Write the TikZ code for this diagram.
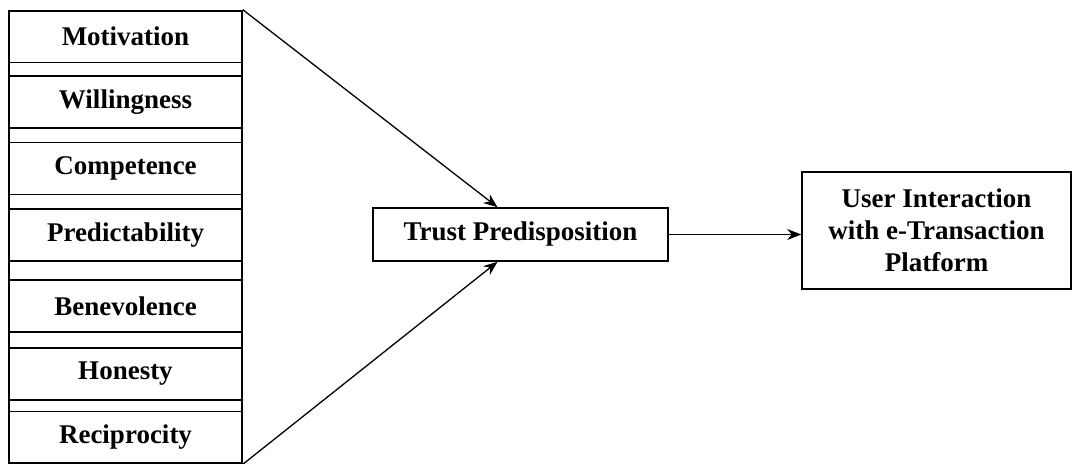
\documentclass[tikz,border=0pt]{standalone}
\usepackage{fontspec}
\setmainfont{Liberation Serif}
\usetikzlibrary{arrows.meta}

\begin{document}
\begin{tikzpicture}[x=0.5pt,y=-0.5pt]
        \tikzset{factor/.style={draw,line width=0.8pt,minimum width=116.5pt,minimum height=26pt,inner sep=0pt,
                font=\fontsize{13.5}{16}\selectfont\bfseries},
            mainbox/.style={draw,line width=0.8pt,align=center,inner sep=0pt,
                font=\fontsize{13.5}{16}\selectfont\bfseries},
            link/.style={-{Stealth[length=7pt,width=5.5pt]},line width=0.65pt}}
        \useasboundingbox (0,0) rectangle (1073,464);
        \draw[line width=0.8pt] (9,11) rectangle (242,463);
        \foreach \name/\label/\y in {mot/Motivation/36.5, wil/Willingness/102, com/Competence/168.5,
                pre/Predictability/235, ben/Benevolence/306, hon/Honesty/374, rec/Reciprocity/437.5}
            \node[factor] (\name) at (125.5,\y) {\label};
        \node[mainbox,minimum width=147.5pt,minimum height=26.5pt] (trust) at (520.5,234.5) {Trust Predisposition};
        \node[mainbox,minimum width=134.5pt,minimum height=58.5pt] (user) at (936.5,230.5)
            {User Interaction\\with e-Transaction\\Platform};
        \draw[link] (mot.north east) -- ([xshift=-11.5pt]trust.north);
        \draw[link] (rec.south east) -- ([xshift=-11.5pt]trust.south);
        \draw[link] (trust.east) -- (trust.east -| user.west);
    \end{tikzpicture}
\end{document}
